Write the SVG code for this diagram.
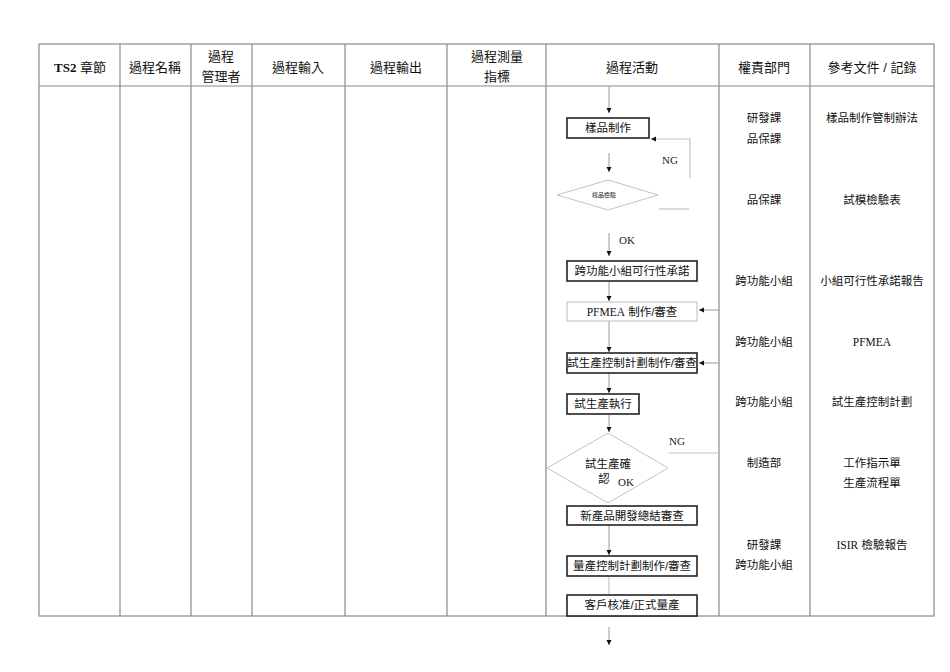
<svg xmlns="http://www.w3.org/2000/svg" width="950" height="672" viewBox="0 0 950 672">
<defs>
<marker id="ah" markerUnits="userSpaceOnUse" markerWidth="6" markerHeight="6" refX="5" refY="2.5" orient="auto">
<path d="M0,0 L5,2.5 L0,5 z" fill="#111"/>
</marker>
<style>
.grid{stroke:#8a8a8a;stroke-width:1.2;fill:none}
.hd{font-family:"Liberation Sans","Noto Sans CJK TC",sans-serif;font-size:13px;fill:#111;text-anchor:middle}
.t{font-family:"Liberation Sans","Noto Sans CJK TC",sans-serif;font-size:11.5px;fill:#111;text-anchor:middle}
.tiny{font-size:6px}
.s{font-family:"Liberation Serif","Noto Sans CJK TC",serif}
.box{fill:#fff;stroke:#222;stroke-width:1.6}
.lbox{fill:#fff;stroke:#bdbdbd;stroke-width:1}
.dia{fill:#fff;stroke:#c4c4c4;stroke-width:1}
.c{stroke:#9a9a9a;stroke-width:1;fill:none}
.cl{stroke:#c4c4c4;stroke-width:1.2;fill:none}
.lab{font-family:"Liberation Serif",serif;font-size:11px;fill:#222}
</style>
</defs>
<rect width="950" height="672" fill="#fff"/>
<g id="table">
<rect class="grid" x="39" y="44" width="895" height="572"/>
<line class="grid" x1="39" y1="86" x2="934" y2="86" stroke-width="2.2"/>
<line class="grid" x1="120" y1="44" x2="120" y2="616"/>
<line class="grid" x1="191" y1="44" x2="191" y2="616"/>
<line class="grid" x1="252" y1="44" x2="252" y2="616"/>
<line class="grid" x1="345" y1="44" x2="345" y2="616"/>
<line class="grid" x1="447" y1="44" x2="447" y2="616"/>
<line class="grid" x1="546" y1="44" x2="546" y2="616"/>
<line class="grid" x1="719" y1="44" x2="719" y2="616"/>
<line class="grid" x1="810" y1="44" x2="810" y2="616"/>
</g>
<g id="header">
<text class="hd" x="80" y="72"><tspan class="s" font-weight="bold">TS2</tspan> 章節</text>
<text class="hd" x="155" y="72">過程名稱</text>
<text class="hd" x="221" y="61">過程</text>
<text class="hd" x="221" y="81">管理者</text>
<text class="hd" x="298" y="72">過程輸入</text>
<text class="hd" x="396" y="72">過程輸出</text>
<text class="hd" x="497" y="61">過程測量</text>
<text class="hd" x="497" y="81">指標</text>
<text class="hd" x="632" y="72">過程活動</text>
<text class="hd" x="764" y="72">權責部門</text>
<text class="hd" x="872" y="72">參考文件 / 記錄</text>
</g>
<g id="connectors">
<path class="c" d="M609,86 V113" marker-end="url(#ah)"/>
<path class="c" d="M609,153 V172" marker-end="url(#ah)"/>
<path class="cl" d="M659,209 H689"/>
<path class="cl" d="M690,178 V139 H651" marker-end="url(#ah)"/>
<path class="c" d="M609,233 V256" marker-end="url(#ah)"/>
<path class="c" d="M609,281 V301" marker-end="url(#ah)"/>
<path class="c" d="M719,310 H699" marker-end="url(#ah)"/>
<path class="c" d="M609,321 V352" marker-end="url(#ah)"/>
<path class="c" d="M719,363 H699" marker-end="url(#ah)"/>
<path class="c" d="M609,373 V393" marker-end="url(#ah)"/>
<path class="c" d="M609,414 V432" marker-end="url(#ah)"/>
<path class="cl" d="M669,453 H719"/>
<path class="c" d="M609,525 V555" marker-end="url(#ah)"/>
<path class="cl" d="M609,576 V595"/>
<path class="c" d="M609,627 V645" marker-end="url(#ah)"/>
<text class="lab" x="662" y="164">NG</text>
<text class="lab" x="619" y="244">OK</text>
<text class="lab" x="669" y="445">NG</text>
</g>
<g id="n1"><rect class="box" x="567" y="118" width="82" height="20"/><text class="t" x="608" y="132">樣品制作</text></g>
<g id="n2"><path class="dia" d="M557,195 L608,180 L658,195 L608,210 Z"/><text class="t tiny" x="604" y="197">樣品檢驗</text></g>
<g id="n3"><rect class="box" x="567" y="261" width="130" height="20"/><text class="t" x="632" y="275">跨功能小組可行性承諾</text></g>
<g id="n4"><rect class="lbox" x="567" y="302" width="130" height="19"/><text class="t" x="632" y="316"><tspan class="s">PFMEA</tspan> 制作/審查</text></g>
<g id="n5"><rect class="box" x="567" y="353" width="130" height="20"/><text class="t" x="632" y="367">試生產控制計劃制作/審查</text></g>
<g id="n6"><rect class="box" x="567" y="394" width="72" height="20"/><text class="t" x="603" y="408">試生產執行</text></g>
<g id="n7"><path class="dia" d="M547,468 L608,433 L668,468 L608,503 Z"/><text class="t" x="608" y="468">試生產確</text><text class="t" x="604" y="483">認</text><text class="lab" x="618" y="486">OK</text></g>
<g id="n8"><rect class="box" x="567" y="506" width="130" height="19"/><text class="t" x="632" y="520">新產品開發總結審查</text></g>
<g id="n9"><rect class="box" x="567" y="556" width="130" height="20"/><text class="t" x="632" y="570">量產控制計劃制作/審查</text></g>
<g id="n10"><rect class="box" x="567" y="595" width="130" height="21"/><text class="t" x="632" y="609">客戶核准/正式量產</text></g>
<g id="dept">
<text class="t" x="764" y="122">研發課</text>
<text class="t" x="764" y="143">品保課</text>
<text class="t" x="764" y="204">品保課</text>
<text class="t" x="764" y="285">跨功能小組</text>
<text class="t" x="764" y="346">跨功能小組</text>
<text class="t" x="764" y="406">跨功能小組</text>
<text class="t" x="764" y="467">制造部</text>
<text class="t" x="764" y="549">研發課</text>
<text class="t" x="764" y="569">跨功能小組</text>
</g>
<g id="docs">
<text class="t" x="872" y="122">樣品制作管制辦法</text>
<text class="t" x="872" y="204">試模檢驗表</text>
<text class="t" x="872" y="285">小組可行性承諾報告</text>
<text class="t s" x="872" y="346">PFMEA</text>
<text class="t" x="872" y="406">試生產控制計劃</text>
<text class="t" x="872" y="467">工作指示單</text>
<text class="t" x="872" y="487">生產流程單</text>
<text class="t" x="872" y="549"><tspan class="s">ISIR</tspan> 檢驗報告</text>
</g>
</svg>
